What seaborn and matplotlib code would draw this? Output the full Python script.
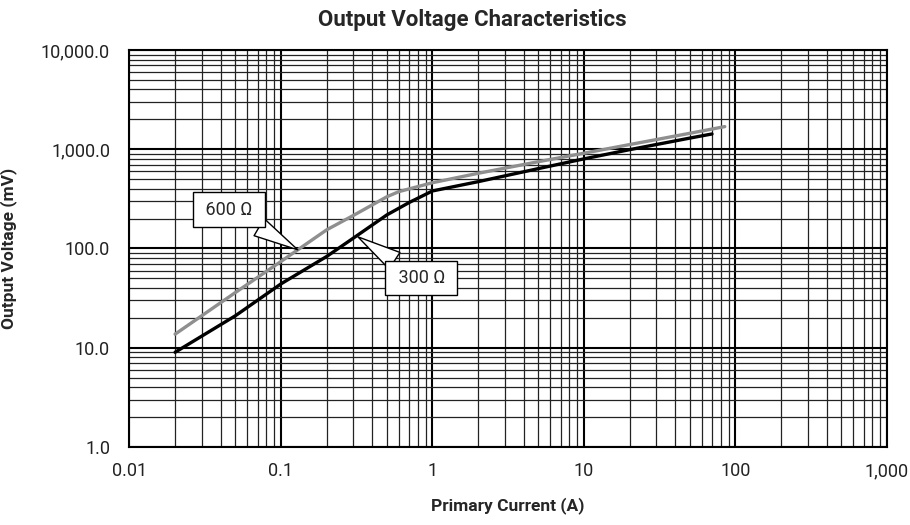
import matplotlib
matplotlib.use("Agg")
import matplotlib.pyplot as plt
import matplotlib.ticker as mticker
import numpy as np
import pandas as pd
import seaborn as sns

# 300 ohm burden
current_300 = [0.02, 0.05, 0.1, 0.2, 0.3, 0.5, 0.7, 1.0, 2.0, 5.0, 10, 20, 50, 70]
voltage_300 = [9, 21, 44, 83, 127, 218, 290, 380, 471, 638, 800, 990, 1295, 1425]

# 600 ohm burden
current_600 = [0.02, 0.05, 0.1, 0.2, 0.3, 0.5, 0.6, 1.0, 2.0, 5.0, 10, 20, 50, 85]
voltage_600 = [13.7, 36, 74, 154, 215, 332, 374, 460, 572, 749, 912, 1114, 1448, 1690]

series_names = ["300 Ω", "600 Ω"]
series_colors = ["black", "#8f8f8f"]

x_ticks = [0.01, 0.1, 1, 10, 100, 1000]
y_ticks = [1, 10, 100, 1000, 10000]

df = pd.concat([
    pd.DataFrame({"current": current_300, "voltage": voltage_300, "burden": series_names[0]}),
    pd.DataFrame({"current": current_600, "voltage": voltage_600, "burden": series_names[1]}),
])

sns.set_style("white")
plt.rcParams["font.family"] = ["Roboto", "DejaVu Sans"]

fig = plt.figure(figsize=(9.1, 5.25), dpi=100)
ax = fig.add_axes([0.1423, 0.1486, 0.8324, 0.7562])

sns.lineplot(data=df, x="current", y="voltage", hue="burden",
             palette=dict(zip(series_names, series_colors)),
             linewidth=2.4, legend=False, ax=ax, zorder=3)

ax.set_xscale("log")
ax.set_yscale("log")
ax.set_xlim(0.01, 1000)
ax.set_ylim(1, 10000)

ax.xaxis.set_major_locator(mticker.FixedLocator(x_ticks))
ax.yaxis.set_major_locator(mticker.FixedLocator(y_ticks))
for axis in (ax.xaxis, ax.yaxis):
    axis.set_minor_locator(mticker.LogLocator(base=10, subs=np.arange(2, 10), numticks=20))
    axis.set_minor_formatter(mticker.NullFormatter())
ax.xaxis.set_major_formatter(mticker.FuncFormatter(
    lambda v, p: f"{v:,.0f}" if v >= 1 else f"{v:g}"))
ax.yaxis.set_major_formatter(mticker.FuncFormatter(lambda v, p: f"{v:,.1f}"))

ax.tick_params(which="both", length=0, labelsize=13, colors="#222222")
ax.tick_params(axis="x", pad=11)
ax.tick_params(axis="y", pad=14)

ax.grid(which="major", color="black", linewidth=1.5, zorder=1)
ax.grid(which="minor", color="#222222", linewidth=0.9, zorder=1)
for sp in ax.spines.values():
    sp.set_color("black")
    sp.set_linewidth(1.5)

ax.set_xlabel("Primary Current (A)", fontsize=12.5, fontweight="bold")
ax.set_ylabel("Output Voltage (mV)", fontsize=12.5, fontweight="bold")
ax.xaxis.set_label_coords(0.5, -0.126)
ax.yaxis.set_label_coords(-0.1485, 0.5)

fig.text(472 / 910, 1 - 20 / 525, "Output Voltage Characteristics",
         ha="center", va="center", fontsize=16, fontweight="bold")

box = dict(boxstyle="square,pad=0.45", fc="white", ec="black", lw=1)
wedge = dict(arrowstyle="wedge,tail_width=1.1", fc="white", ec="black", lw=1,
             shrinkA=0, shrinkB=0)
ax.annotate(" 600 Ω ", xy=(0.129, 97), xytext=(0.0454, 247),
            ha="center", va="center", fontsize=13, bbox=box,
            arrowprops=wedge, zorder=5)
ax.annotate(" 300 Ω ", xy=(0.322, 131), xytext=(0.846, 50),
            ha="center", va="center", fontsize=13, bbox=box,
            arrowprops=wedge, zorder=5)

fig.savefig("out.png", dpi=100)
